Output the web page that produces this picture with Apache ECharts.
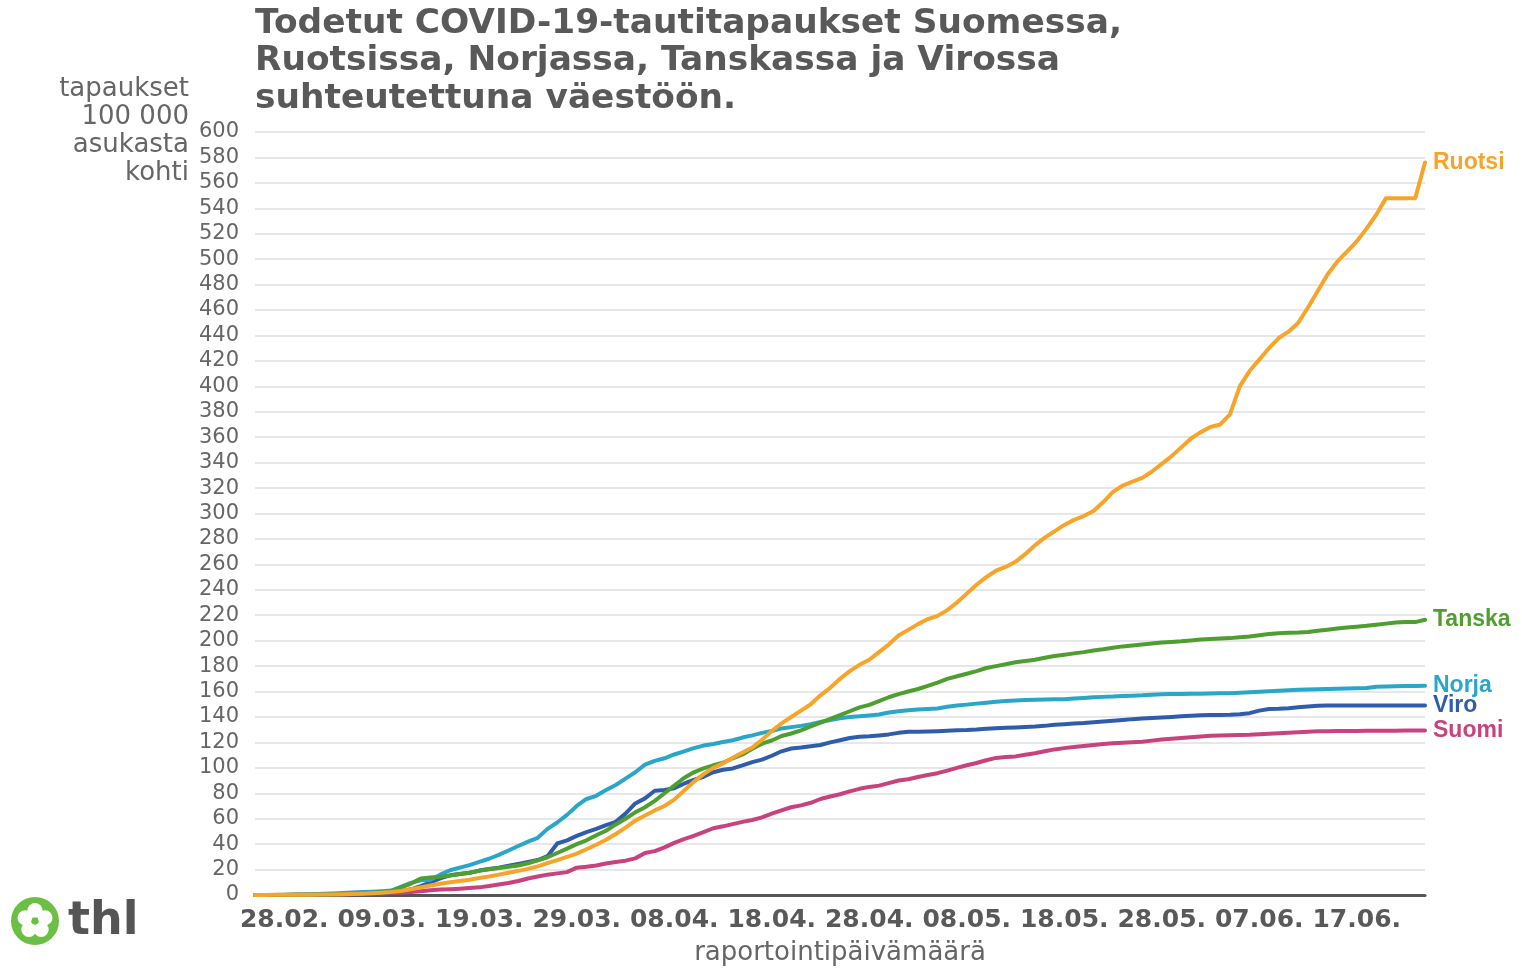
<!DOCTYPE html>
<html>
<head>
<meta charset="utf-8">
<script src="https://cdn.jsdelivr.net/npm/echarts@6/dist/echarts.min.js"></script>
<style>
html,body{margin:0;padding:0;background:#fff;}
#chart{width:1522px;height:968px;}
</style>
</head>
<body>
<div id="chart"></div>
<script>
// Categories: daily report dates 25.02.2020 – 24.06.2020
const startDate = new Date(2020, 1, 25);
const dayCount = 121;
const dates = [];
for (let i = 0; i < dayCount; i++) {
  const d = new Date(startDate.getFullYear(), startDate.getMonth(), startDate.getDate() + i);
  dates.push(String(d.getDate()).padStart(2, '0') + '.' + String(d.getMonth() + 1).padStart(2, '0') + '.');
}

const yTicks = [0, 600, 20]; // min, max, interval

const ruotsi = [
  0, 0.07, 0.1, 0.1, 0.12, 0.15, 0.2, 0.3, 0.4, 0.5,
  0.7, 1.0, 1.4, 1.8, 2.4, 3.2, 4.5, 6, 7.5, 8.8,
  10, 11, 12, 13.3, 14.5, 16, 17.5, 19, 20.5, 22.5,
  25, 27.5, 30, 32.5, 36, 39.5, 43.5, 48, 53, 58.5,
  62.5, 66.5, 70, 75, 82, 89, 95, 100, 103.5, 108,
  112, 116, 122, 129, 135, 140, 145, 150, 157, 163,
  170, 176, 181, 185, 191, 197, 204, 208.5, 213, 217,
  219.5, 224, 230, 237, 244, 250, 255, 258, 262, 268,
  275, 281, 286, 291, 295, 298, 302, 309, 317, 322,
  325, 328, 333, 339, 345, 352, 359, 364, 368, 370,
  378, 400, 412, 421, 430, 438, 443, 450, 462, 475,
  488, 498, 506, 514, 524, 535, 548, 548, 548, 548,
  576
];
const tanska = [
  0, 0.02, 0.05, 0.05, 0.1, 0.17, 0.3, 0.4, 0.5, 0.6,
  0.8, 1.2, 1.8, 2.2, 3.2, 6, 9, 13, 13.8, 14.3,
  15.3, 16.5, 17.5, 19, 20.3, 21.2, 22.2, 23.2, 25, 27.2,
  29.7, 33, 36.5, 40, 43, 47, 50.5, 55.5, 60, 65,
  69, 74, 80, 86, 92, 96.5, 99.5, 102, 104, 107.5,
  110.5, 115, 119, 121.5, 125, 127, 129.5, 132.5, 135.5, 138.5,
  141.4, 144.5, 147.5, 149.5, 152.5, 155.5, 158, 160, 162, 164.5,
  167, 170, 172, 174, 176, 178.5, 180, 181.5, 183, 184,
  185, 186.5, 188, 189, 190, 191, 192.3, 193.3, 194.5, 195.5,
  196.2, 197, 197.8, 198.5, 199, 199.5, 200.2, 201, 201.3, 201.7,
  202, 202.6, 203.3, 204.3, 205.2, 205.8, 206.2, 206.4, 206.8, 207.8,
  208.6, 209.5, 210.3, 211, 211.7, 212.6, 213.4, 214.3, 214.6, 214.6,
  216.4
];
const norja = [
  0, 0, 0.02, 0.1, 0.2, 0.3, 0.5, 0.9, 1.2, 1.5,
  1.9, 2.3, 2.6, 3, 3.5, 6.5, 9.5, 11.5, 12, 16,
  19.5, 21.5, 23.5, 26, 28.5, 31.5, 35, 38.5, 42, 45,
  52, 57, 63, 70, 75.5, 78, 82.5, 86.5, 91.5, 96.5,
  102.5, 105.5, 107.5, 110.5, 113, 115.5, 117.5, 118.7, 120.3, 121.7,
  123.8, 125.5, 127.5, 129, 131, 132, 133, 134.3, 136, 137.5,
  139, 140, 140.5, 141.2, 142, 143.5, 144.5, 145.3, 145.8, 146.2,
  146.6, 148, 149, 149.7, 150.5, 151.2, 152, 152.6, 153, 153.3,
  153.6, 153.8, 154, 154, 154.5, 155, 155.5, 155.8, 156, 156.4,
  156.7, 157, 157.5, 157.9, 158, 158.1, 158.2, 158.3, 158.4, 158.6,
  158.7, 159.1, 159.5, 159.8, 160.2, 160.6, 161, 161.4, 161.6, 161.8,
  162, 162.2, 162.4, 162.6, 162.8, 163.8, 164, 164.1, 164.3, 164.4,
  164.5
];
const viro = [
  0, 0, 0.08, 0.08, 0.15, 0.15, 0.2, 0.25, 0.5, 0.7,
  0.8, 1, 1.2, 1.5, 2, 3, 4.5, 7, 10, 13,
  15.5, 16.5, 17.5, 19.2, 20.5, 21.5, 23, 24.5, 26, 27.5,
  30.5, 40.5, 43, 46.5, 49.5, 52, 55, 57.5, 64, 72,
  76, 82, 82.5, 84, 87.5, 90.5, 93, 96.5, 98.5, 99.5,
  102, 104.5, 106.5, 109.5, 113, 115.2, 116, 117, 118, 120,
  121.7, 123.5, 124.5, 124.8, 125.5, 126.3, 127.5, 128.3, 128.3, 128.5,
  128.8, 129.2, 129.6, 129.8, 130.2, 130.8, 131.1, 131.5, 131.8, 132.2,
  132.5, 133, 133.8, 134.3, 134.8, 135.2, 135.8, 136.4, 137, 137.6,
  138.3, 138.7, 139.1, 139.5, 140, 140.5, 141, 141.3, 141.5, 141.6,
  141.7, 142.2, 143, 145, 146.3, 146.4, 146.8, 147.6, 148.3, 148.8,
  149, 149, 149, 149, 149, 149, 149, 149, 149, 149,
  149
];
const suomi = [
  0.02, 0.04, 0.05, 0.05, 0.1, 0.1, 0.1, 0.2, 0.3, 0.4,
  0.5, 0.7, 0.9, 1.2, 1.5, 1.8, 2.3, 3, 3.8, 4.3,
  4.6, 5, 5.5, 6, 7, 8.2, 9.5, 11, 13, 14.5,
  16, 17, 18, 21.5, 22.2, 23.2, 24.8, 26, 27, 28.8,
  33, 34.5, 37.5, 41, 44, 46.5, 49.5, 52.5, 54, 55.7,
  57.5, 59, 61, 64, 66.5, 69, 70.5, 72.5, 75.5, 77.5,
  79.2, 81.5, 83.5, 85, 86, 88, 90, 91, 92.8, 94.3,
  95.8, 97.8, 100, 102, 103.8, 106, 107.8, 108.5, 109, 110.3,
  111.5, 113, 114.5, 115.5, 116.3, 117.2, 118, 118.8, 119.3, 119.7,
  120.1, 120.5, 121.4, 122.2, 122.9, 123.4, 124, 124.6, 125.2, 125.5,
  125.6, 125.8, 126, 126.4, 126.8, 127.2, 127.6, 128, 128.4, 128.7,
  128.8, 128.9, 129, 129, 129.1, 129.1, 129.2, 129.2, 129.3, 129.3,
  129.3
];

const seriesNames = ['Suomi', 'Viro', 'Norja', 'Tanska', 'Ruotsi'];
const seriesData = [suomi, viro, norja, tanska, ruotsi];
const seriesColors = ['#c8427d', '#2f5dab', '#2aa6c8', '#4e9e30', '#f7a52a'];

const FONT = 'DejaVu Sans';
const chart = echarts.init(document.getElementById('chart'), null, {renderer: 'canvas'});

const petals = [];
for (let k = 0; k < 5; k++) {
  const a = -Math.PI / 2 + k * 2 * Math.PI / 5;
  petals.push({
    type: 'circle',
    shape: {cx: 35 + Math.cos(a) * 10.5, cy: 921 + Math.sin(a) * 10.5, r: 7.5},
    style: {fill: '#ffffff'}
  });
}

chart.setOption({
  animation: false,
  backgroundColor: '#ffffff',
  title: {
    text: 'Todetut COVID-19-tautitapaukset Suomessa,\nRuotsissa, Norjassa, Tanskassa ja Virossa\nsuhteutettuna väestöön.',
    left: 250,
    top: 0,
    textStyle: {fontFamily: FONT, fontSize: 34.4, fontWeight: 'bold', color: '#595959', lineHeight: 37.5}
  },
  grid: {left: 255, right: 97, top: 132, height: 763, outerBoundsMode: 'none', containLabel: false},
  xAxis: {
    type: 'category',
    data: dates,
    boundaryGap: false,
    name: 'raportointipäivämäärä',
    nameLocation: 'middle',
    nameGap: 45,
    nameTextStyle: {fontFamily: FONT, fontSize: 26, color: '#666666', verticalAlign: 'top'},
    axisLine: {lineStyle: {color: '#555555', width: 3}},
    axisTick: {show: false},
    splitLine: {show: false},
    axisLabel: {
      interval: function (idx) { return idx % 10 === 3; },
      margin: 13,
      fontFamily: FONT, fontSize: 25, fontWeight: 'bold', color: '#595959'
    }
  },
  yAxis: {
    type: 'value',
    min: yTicks[0], max: yTicks[1], interval: yTicks[2],
    axisLine: {show: false},
    axisTick: {show: false},
    splitLine: {lineStyle: {color: '#e6e7e9', width: 2}},
    axisLabel: {margin: 16, fontFamily: FONT, fontSize: 21, color: '#666666'}
  },
  graphic: [
    {
      type: 'text',
      x: 189, y: 75.5,
      style: {
        text: 'tapaukset\n100 000\nasukasta\nkohti',
        align: 'right', verticalAlign: 'top',
        font: '26px "DejaVu Sans"', lineHeight: 28, fill: '#666666'
      }
    },
    {type: 'circle', shape: {cx: 35, cy: 921, r: 24}, style: {fill: '#6cbf45'}},
    ...petals,
    {type: 'circle', shape: {cx: 35, cy: 921, r: 3.5}, style: {fill: '#6cbf45'}},
    {
      type: 'text', x: 68, y: 922,
      style: {text: 'thl', font: 'bold 46px "DejaVu Sans"', fill: '#555555', verticalAlign: 'middle'}
    }
  ],
  series: seriesNames.map((name, i) => ({
    name: name,
    type: 'line',
    data: seriesData[i],
    symbol: 'none',
    lineStyle: {color: seriesColors[i], width: 4, cap: 'round', join: 'round'},
    itemStyle: {color: seriesColors[i]},
    z: 2 + i,
    endLabel: {
      show: true,
      formatter: '{a}',
      distance: 8,
      fontFamily: 'Liberation Sans', fontSize: 23, fontWeight: 'bold',
      color: seriesColors[i]
    }
  }))
});
</script>
</body>
</html>
